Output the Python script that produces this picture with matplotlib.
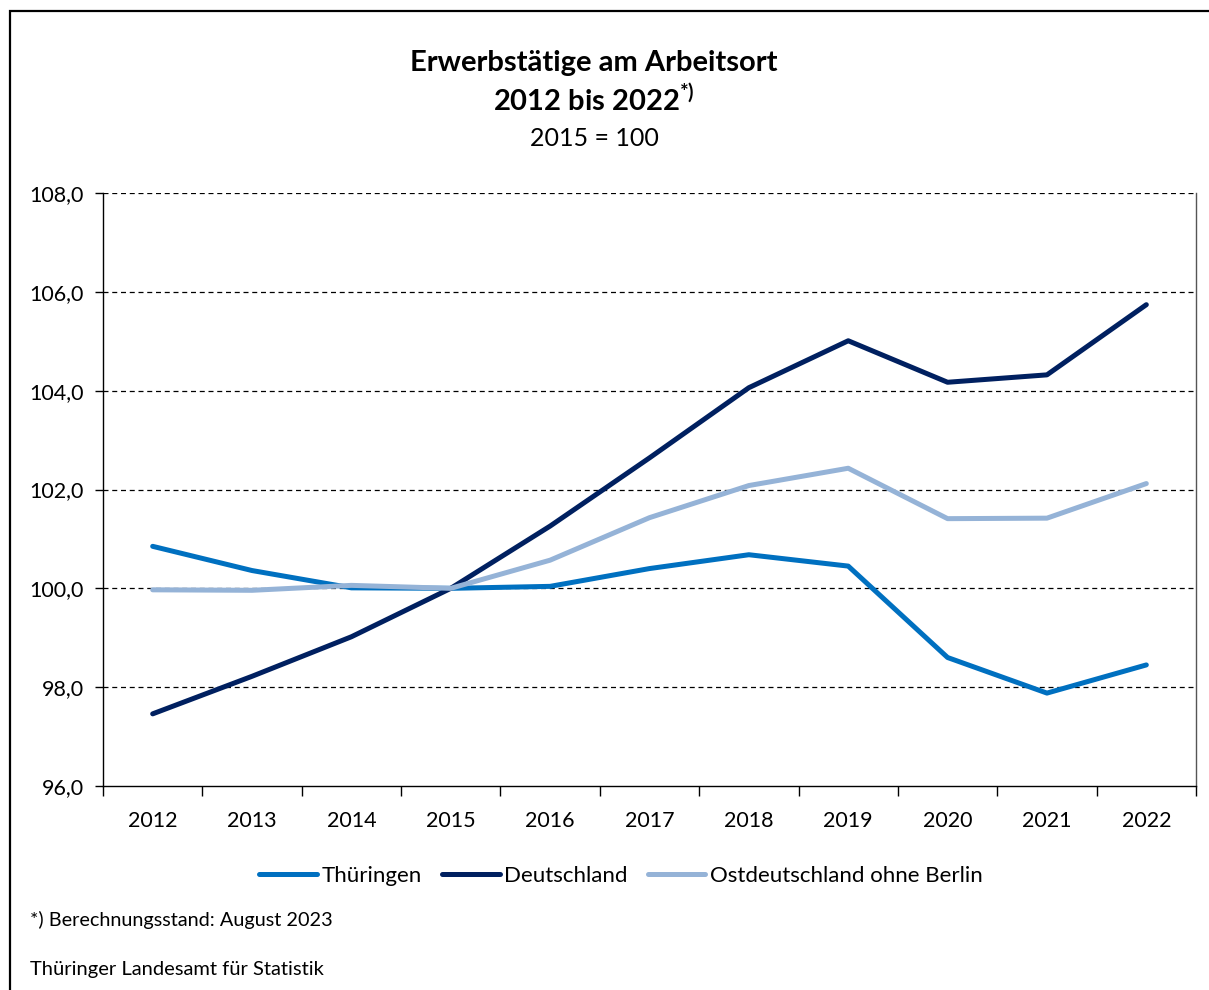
import matplotlib
matplotlib.use("Agg")
import matplotlib.pyplot as plt
from matplotlib.patches import Rectangle

years = ["2012", "2013", "2014", "2015", "2016", "2017", "2018", "2019", "2020", "2021", "2022"]
thueringen = [100.85, 100.36, 100.01, 100.0, 100.04, 100.40, 100.68, 100.45, 98.60, 97.88, 98.45]
deutschland = [97.46, 98.22, 99.02, 100.0, 101.26, 102.64, 104.06, 105.01, 104.17, 104.32, 105.74]
ost = [99.97, 99.96, 100.06, 100.0, 100.57, 101.43, 102.08, 102.43, 101.41, 101.42, 102.12]
series_names = ["Thüringen", "Deutschland", "Ostdeutschland ohne Berlin"]
y_ticks = [96, 98, 100, 102, 104, 106, 108]

colors = ["#0070C0", "#002060", "#95B3D7"]

plt.rcParams['font.family'] = ['Lato', 'DejaVu Sans']
plt.rcParams['mathtext.fontset'] = 'custom'
plt.rcParams['mathtext.rm'] = 'Lato'
plt.rcParams['mathtext.bf'] = 'Lato:bold'

W, H = 1209, 990
fig = plt.figure(figsize=(W / 100, H / 100), dpi=100)
ax = fig.add_axes([103 / W, 1 - 786 / H, (1196 - 103) / W, (786 - 193) / H])

# outer frame
fig.patches.append(Rectangle((10 / W, -0.05), 1.2, 1 - 11 / H + 0.05, transform=fig.transFigure,
                             fill=False, edgecolor="black", linewidth=1.6, zorder=0))

x = list(range(len(years)))
for vals, c, name in zip([thueringen, deutschland, ost], colors, series_names):
    ax.plot(x, vals, color=c, linewidth=3.6, solid_capstyle="round", solid_joinstyle="round",
            label=name, zorder=3)

ax.set_xlim(-0.5, len(years) - 0.5)
ax.set_ylim(96, 108)
ax.set_yticks(y_ticks)
ax.set_yticklabels([f"{v:.1f}".replace(".", ",") for v in y_ticks], fontsize=15.5)
ax.set_xticks(x)
ax.set_xticklabels(years, fontsize=15.5)
ax.set_xticks([i - 0.5 for i in range(len(years) + 1)], minor=True)
ax.tick_params(axis="x", which="major", length=0, pad=18)
ax.tick_params(axis="x", which="minor", length=7, width=1, color="black", direction="out")
ax.tick_params(axis="y", length=6, width=1, direction="out", pad=8)

for v in y_ticks[1:]:
    ax.axhline(v, color="black", linewidth=0.9, linestyle=(0, (4, 3)), zorder=1)

ax.spines["top"].set_visible(False)
ax.spines["right"].set_color("#555555")
ax.spines["left"].set_color("black")
ax.spines["bottom"].set_color("black")
for s in ax.spines.values():
    s.set_linewidth(1.0)

fig.text(594 / W, 1 - 63 / H, "Erwerbstätige am Arbeitsort", ha="center", va="center",
         fontsize=21, fontweight="bold")
fig.text(594 / W, 1 - 100 / H, r"2012 bis 2022$^{\mathbf{*)}}$", ha="center", va="center",
         fontsize=21, fontweight="bold")
fig.text(594 / W, 1 - 138 / H, "2015 = 100", ha="center", va="center", fontsize=18)

fig.legend(loc="center", bbox_to_anchor=(621 / W, 1 - 876 / H), ncol=3, frameon=False,
           fontsize=16, handlelength=2.6, handletextpad=0.2, columnspacing=0.9)

fig.text(30 / W, 1 - 920 / H, "*) Berechnungsstand: August 2023", ha="left", va="center", fontsize=14.3)
fig.text(30 / W, 1 - 970 / H, "Thüringer Landesamt für Statistik", ha="left", va="center", fontsize=14.5)

fig.savefig("out.png", dpi=100)
